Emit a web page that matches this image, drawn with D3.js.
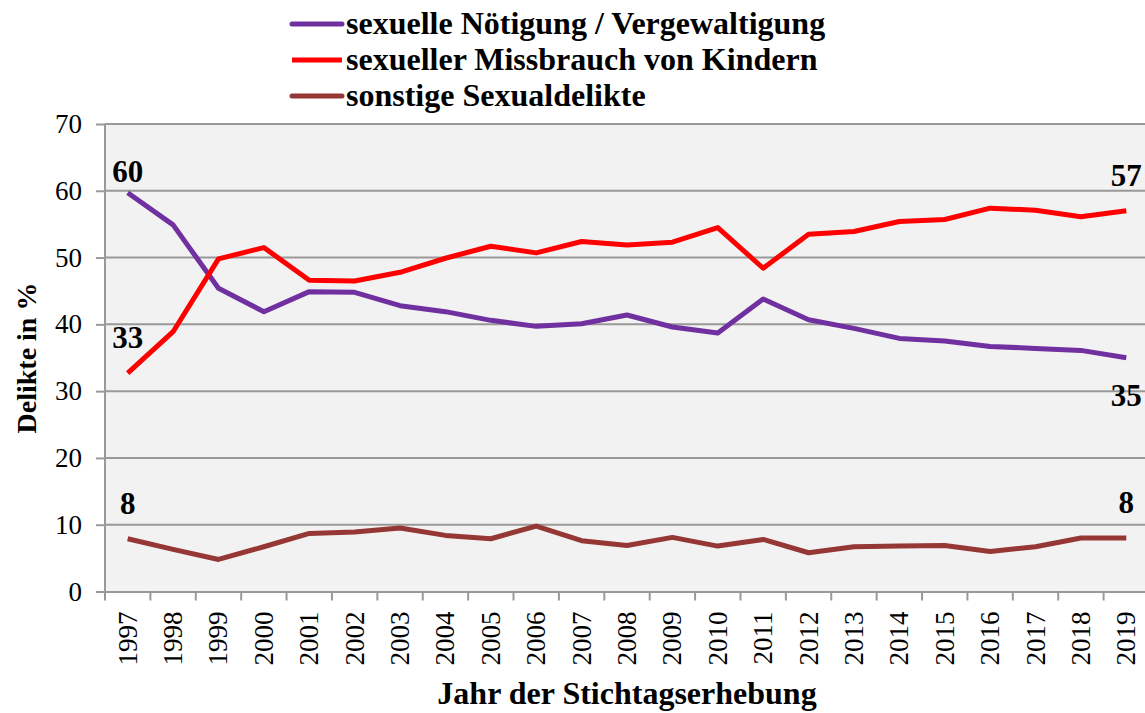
<!DOCTYPE html>
<html>
<head>
<meta charset="utf-8">
<script src="https://cdn.jsdelivr.net/npm/d3@7"></script>
<style>
  body { margin: 0; background: #fff; }
  text { font-family: "Liberation Serif", "Times New Roman", serif; }
</style>
</head>
<body>
<div class="svg-container"></div>
<script>
var years = ['1997','1998','1999','2000','2001','2002','2003','2004','2005','2006','2007','2008',
  '2009','2010','2011','2012','2013','2014','2015','2016','2017','2018','2019'];

var noetigung = [59.7, 54.9, 45.4, 41.9, 44.9, 44.8, 42.8, 41.9, 40.6, 39.7, 40.1, 41.4,
  39.6, 38.7, 43.8, 40.7, 39.4, 37.9, 37.5, 36.7, 36.4, 36.1, 35.0];
var missbrauch = [32.7, 38.9, 49.8, 51.5, 46.6, 46.5, 47.8, 49.9, 51.7, 50.7, 52.4, 51.9,
  52.3, 54.5, 48.4, 53.5, 53.9, 55.4, 55.7, 57.4, 57.1, 56.1, 57.0];
var sonstige = [7.9, 6.3, 4.8, 6.7, 8.7, 8.9, 9.5, 8.4, 7.9, 9.8, 7.6, 6.9,
  8.1, 6.8, 7.8, 5.8, 6.7, 6.8, 6.9, 6.0, 6.7, 8.0, 8.0];

var seriesNames = ['sexuelle Nötigung / Vergewaltigung', 'sexueller Missbrauch von Kindern', 'sonstige Sexualdelikte'];
var seriesColors = ['#7030a0', '#ff0000', '#953735'];
var yTicks = [0, 10, 20, 30, 40, 50, 60, 70];

// first / last value labels: [series index, point index, text]
var endLabels = [[0, 0, '60'], [1, 0, '33'], [2, 0, '8'], [1, 22, '57'], [0, 22, '35'], [2, 22, '8']];

var series = [noetigung, missbrauch, sonstige];

var svg = d3.select('.svg-container').append('svg')
  .attr('width', 1145)
  .attr('height', 713);

var plotLeft = 105, plotRight = 1149, plotTop = 124, plotBottom = 591.5;

var x = d3.scaleBand().domain(years).range([plotLeft, plotRight]);
var y = d3.scaleLinear().domain([0, 70]).range([plotBottom, plotTop]);

svg.append('rect')
  .attr('x', plotLeft).attr('y', plotTop)
  .attr('width', plotRight - plotLeft).attr('height', plotBottom - plotTop)
  .style('fill', '#f2f2f2');

// grid
svg.selectAll('.grid')
  .data(yTicks.filter(function(d) { return d > 0; }))
  .enter().append('line')
  .attr('class', 'grid')
  .attr('x1', plotLeft).attr('x2', plotRight)
  .attr('y1', function(d) { return y(d); })
  .attr('y2', function(d) { return y(d); })
  .style('stroke', '#999').style('stroke-width', 2);

// y axis
var yAxis = svg.append('g')
  .attr('transform', 'translate(' + plotLeft + ',0)')
  .call(d3.axisLeft(y).tickValues(yTicks).tickSize(9).tickPadding(14));
yAxis.selectAll('path, line').style('stroke', '#999').style('stroke-width', 2);
yAxis.select('.domain').attr('d', 'M0,' + plotTop + 'V' + plotBottom);
yAxis.selectAll('text').style('font-size', '27px').style('fill', '#000')
  .style('font-family', '"Liberation Serif", serif');

// x axis
var xAxis = svg.append('g')
  .attr('transform', 'translate(0,' + plotBottom + ')')
  .call(d3.axisBottom(x).tickSize(0).tickPadding(0));
xAxis.select('.domain').style('stroke', '#999').style('stroke-width', 2);
xAxis.selectAll('.tick line').remove();
xAxis.selectAll('.tick text')
  .attr('transform', 'translate(9,20) rotate(-90)')
  .attr('dy', 0)
  .style('text-anchor', 'end')
  .style('font-size', '27px').style('fill', '#000')
  .style('font-family', '"Liberation Serif", serif');

svg.selectAll('.xtick')
  .data(years)
  .enter().append('line')
  .attr('class', 'xtick')
  .attr('x1', function(d) { return x(d); })
  .attr('x2', function(d) { return x(d); })
  .attr('y1', plotBottom).attr('y2', plotBottom + 9)
  .style('stroke', '#999').style('stroke-width', 2);

// lines
var line = d3.line()
  .x(function(d, i) { return x(years[i]) + x.bandwidth() / 2; })
  .y(function(d) { return y(d); });

svg.selectAll('.series')
  .data(series)
  .enter().append('path')
  .attr('class', 'series')
  .attr('d', line)
  .style('fill', 'none')
  .style('stroke', function(d, i) { return seriesColors[i]; })
  .style('stroke-width', 5)
  .style('stroke-linejoin', 'round');

// value labels
svg.selectAll('.vlabel')
  .data(endLabels)
  .enter().append('text')
  .attr('class', 'vlabel')
  .attr('x', function(d) { return x(years[d[1]]) + x.bandwidth() / 2; })
  .attr('y', function(d) {
    var v = series[d[0]][d[1]];
    if (d[0] === 0 && d[1] === 0) return y(v) - 11;
    if (d[0] === 0 && d[1] === 22) return y(v) + 48;
    return y(v) - 25;
  })
  .attr('text-anchor', 'middle')
  .style('font-size', '31px').style('font-weight', 'bold')
  .text(function(d) { return d[2]; });

// axis titles
svg.append('text')
  .attr('transform', 'translate(36,358) rotate(-90)')
  .attr('text-anchor', 'middle')
  .style('font-size', '28px').style('font-weight', 'bold')
  .text('Delikte in %');

svg.append('text')
  .attr('x', 627).attr('y', 704)
  .attr('text-anchor', 'middle')
  .style('font-size', '32px').style('font-weight', 'bold')
  .text('Jahr der Stichtagserhebung');

// legend
var legend = svg.selectAll('.legend')
  .data(seriesNames)
  .enter().append('g')
  .attr('class', 'legend')
  .attr('transform', function(d, i) { return 'translate(292,' + (24 + i * 36) + ')'; });

legend.append('line')
  .attr('x1', 0).attr('x2', 50)
  .style('stroke', function(d, i) { return seriesColors[i]; })
  .style('stroke-width', 5)
  .style('stroke-linecap', function(d, i) { return i === 1 ? 'butt' : 'round'; });

legend.append('text')
  .attr('x', 54).attr('y', 10)
  .style('font-size', '32px').style('font-weight', 'bold')
  .text(function(d) { return d; });
</script>
</body>
</html>
